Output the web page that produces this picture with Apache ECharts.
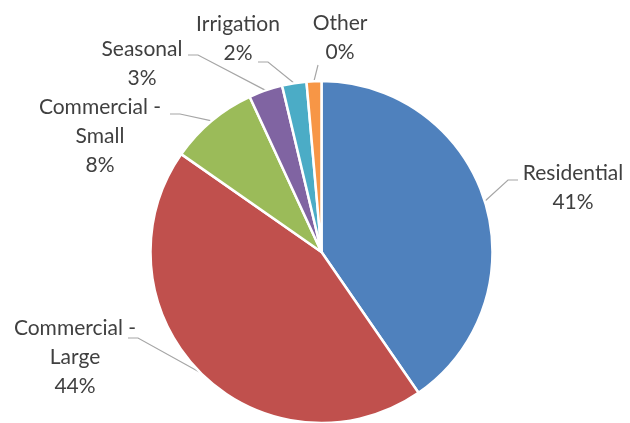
<!DOCTYPE html>
<html>
<head>
<meta charset="utf-8">
<script src="https://cdn.jsdelivr.net/npm/echarts@6/dist/echarts.min.js"></script>
<style>
html,body{margin:0;padding:0;background:#fff;}
#c{width:630px;height:423px;}
</style>
</head>
<body>
<div id="c"></div>
<script>
// Data
var categories = ['Residential', 'Commercial -\nLarge', 'Commercial -\nSmall', 'Seasonal', 'Irrigation', 'Other'];
var shares = [40.4, 44.3, 8.4, 3.2, 2.3, 1.4];
var shownPercent = ['41%', '44%', '8%', '3%', '2%', '0%'];
var colors = ['#4F81BD', '#C0504D', '#9BBB59', '#8064A2', '#4BACC6', '#F79646'];

// Label placement (layout only)
var labelPos = [
  {x: 573, y: 188, elbow: [508, 180], end: [518, 180]},
  {x: 75,  y: 357, elbow: [138, 338], end: [128, 338]},
  {x: 100, y: 136, elbow: [180, 114], end: [170, 114]},
  {x: 142, y: 64,  elbow: [198, 55],  end: [188, 55]},
  {x: 238, y: 39,  elbow: [268, 62],  end: [258, 62]},
  {x: 340, y: 38,  elbow: [318, 65],  end: [318, 65]}
];

var chart = echarts.init(document.getElementById('c'));
var data = categories.map(function (c, i) {
  return {name: c, value: shares[i], itemStyle: {color: colors[i]}};
});

chart.setOption({
  animation: false,
  series: [{
    type: 'pie',
    center: [321.5, 252],
    radius: [0, 171],
    startAngle: 90,
    clockwise: true,
    avoidLabelOverlap: false,
    data: data,
    itemStyle: {borderColor: '#ffffff', borderWidth: 2.5},
    label: {
      show: true,
      position: 'outside',
      formatter: function (p) { return p.name + '\n' + shownPercent[p.dataIndex]; },
      fontFamily: 'Lato',
      fontSize: 21,
      lineHeight: 29,
      color: '#404040',
      align: 'center'
    },
    labelLine: {
      show: true,
      length: 10,
      length2: 10,
      lineStyle: {color: '#A6A6A6', width: 1.2}
    },
    labelLayout: function (params) {
      var lp = labelPos[params.dataIndex];
      var pts = params.labelLinePoints;
      var start = pts && pts[0] ? pts[0] : lp.elbow;
      return {
        x: lp.x,
        y: lp.y,
        align: 'center',
        verticalAlign: 'middle',
        labelLinePoints: [start, lp.elbow, lp.end]
      };
    }
  }]
});
</script>
</body>
</html>
